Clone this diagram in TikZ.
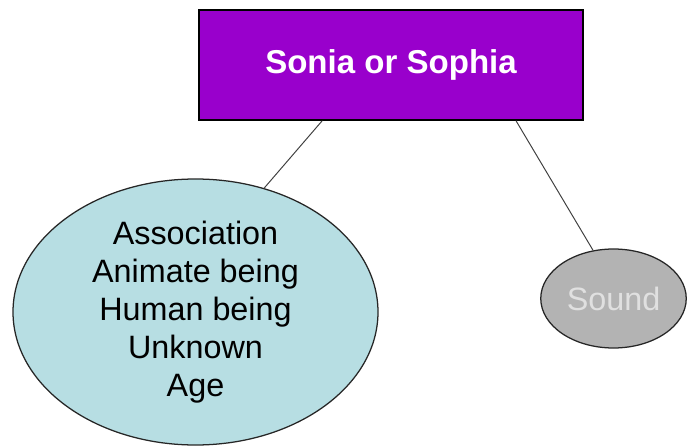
\documentclass[tikz,border=0pt]{standalone}
\usepackage{fontspec}
\setmainfont{Liberation Sans}
\usepackage{tikz}
\usetikzlibrary{
	positioning,
	shapes,
}
\definecolor{namepurple}{HTML}{9900CC}
\definecolor{attrblue}{HTML}{B7DEE3}
\definecolor{soundgray}{HTML}{B3B3B3}
\tikzset{name node/.style={
	draw,
	rectangle,
	fill=namepurple,
	text=white,
	minimum width=9.6cm,
	minimum height=2.75cm,
	line width=0.9pt,
	font=\bfseries\fontsize{23.5}{27}\selectfont,
}}
\tikzset{attr node/.style={
	draw=black!85,
	ellipse,
	fill=attrblue,
	line width=0.9pt,
}}
\tikzset{attr text/.style={
	align=center,
	inner sep=0mm,
	text=black,
	font=\fontsize{23}{27}\selectfont,
}}
\tikzset{link/.style={
	black!75,
	line width=0.7pt,
}}

\begin{document}
\begin{tikzpicture}
\useasboundingbox (0,0) rectangle (17.2,-11.175);

\node[name node] (sonia) at (9.775,-1.625) {Sonia or Sophia};

\node[attr node, minimum width=9.125cm, minimum height=6.65cm,
	label={[attr text]center:{Association\\Animate being\\Human being\\Unknown\\Age}}]
	(assoc) at (4.8875,-7.8) {};

\node[attr node, fill=soundgray, minimum width=3.625cm, minimum height=2.475cm,
	text=white!88!black, font=\fontsize{23}{27}\selectfont]
	(sound) at (15.3375,-7.4625) {Sound};

% the two links hang from the bottom edge
\draw[link] (sonia.219.5) -- (assoc.61.4);
\draw[link] (sonia.336.9) -- (sound.113.1);

\end{tikzpicture}
\end{document}
